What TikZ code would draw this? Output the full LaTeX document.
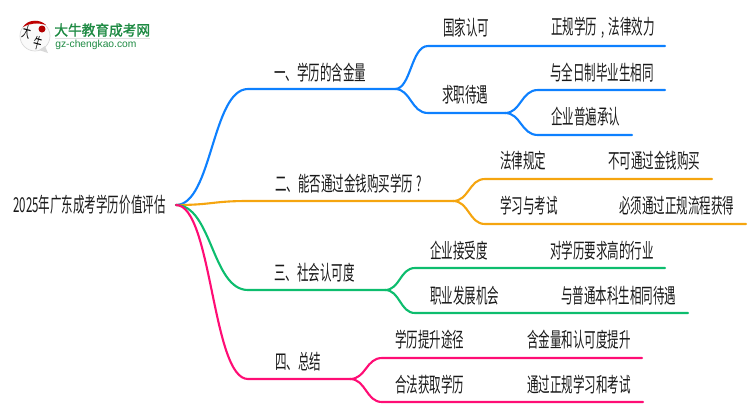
\documentclass[tikz,border=0pt]{standalone}
\usepackage{fontspec}
\setmainfont{Liberation Sans}
\newfontfamily\cjk[FakeStretch=0.56]{Noto Sans CJK SC}
\newfontfamily\cjklogo[FakeStretch=0.95,FakeBold=1.5]{Noto Sans CJK SC}
\usepackage{tikz}
\definecolor{bluebranch}{HTML}{0D80FF}
\definecolor{orangebranch}{HTML}{F5A50F}
\definecolor{greenbranch}{HTML}{0DBD6E}
\definecolor{pinkbranch}{HTML}{FF0D75}
\definecolor{logogreen}{HTML}{1E8A43}
\newcommand{\punct}[1]{\makebox[6.55pt]{#1}}
\tikzset{
  label/.style={anchor=west, inner sep=0pt, font=\cjk\fontsize{11.7}{13}\selectfont, text=black!90},
  logomark/.style={inner sep=0pt, rotate=-15, font=\cjk\fontsize{8.5}{9}\selectfont},
  branch/.style={line width=1.2pt, line cap=round},
}

\begin{document}
\begin{tikzpicture}[x=0.02cm, y=-0.02cm]
      \useasboundingbox (0,0) rectangle (750,410);

      % Logo
      \draw[black!15, fill=black!2, line width=0.4pt] (35,36) circle (15);
      \fill[black!15] (39,50) -- (48,53) -- (45,46) -- cycle;
      \fill[red!75!black] (23,27) .. controls (28,19) and (40,19) .. (46,25) .. controls (38,22.5) and (30,23) .. (23,27) -- cycle;
      \fill[red!70!black] (42,29) circle (3.5);
      \node[logomark] (logomarka) at (27,32) {大};
      \node[logomark] (logomarkb) at (38,43) {牛};
      \node[anchor=west, inner sep=0pt, font=\cjklogo\fontsize{8.2}{9}\selectfont, text=logogreen] (logoname) at (54,30) {大牛教育成考网};
      \node[anchor=west, inner sep=0pt, font=\fontsize{5.85}{6}\selectfont, text=logogreen] (logourl) at (55,44.5) {gz-chengkao.com};
      \draw[black!12, line width=0.4pt] (55,38.5) -- (150,38.5);

      % Root
      \node[label] (root) at (13,205) {2025年广东成考学历价值评估};
      \coordinate (start) at (176,205);

      % Branch for 一
      \node[label] (one) at (274,73) {一、学历的含金量};
      \node[label] (onea) at (443,28) {国家认可};
      \node[label] (oneaa) at (551,28) {正规学历\punct{,}法律效力};
      \node[label] (oneb) at (442,95) {求职待遇};
      \node[label] (oneba) at (550,73) {与全日制毕业生相同};
      \node[label] (onebb) at (551,117) {企业普遍承认};
      \coordinate (onel) at (248,89);
      \coordinate (oner) at (395,89);
      \coordinate (oneal) at (428,46);
      \coordinate (onear) at (665,46);
      \coordinate (onebl) at (428,113);
      \coordinate (onebr) at (505,113);
      \coordinate (onebal) at (538,90);
      \coordinate (onebar) at (665,90);
      \coordinate (onebbl) at (538,135);
      \coordinate (onebbr) at (632,135);
      \draw[branch, bluebranch] (start) .. controls (212,205) and (212,89) .. (onel) -- (oner);
      \draw[branch, bluebranch] (oner) .. controls (411,89) and (411,46) .. (oneal) -- (onear);
      \draw[branch, bluebranch] (oner) .. controls (411,89) and (411,113) .. (onebl) -- (onebr);
      \draw[branch, bluebranch] (onebr) .. controls (521,113) and (521,90) .. (onebal) -- (onebar);
      \draw[branch, bluebranch] (onebr) .. controls (521,113) and (521,135) .. (onebbl) -- (onebbr);

      % Branch for 二
      \node[label] (two) at (275,184) {二、能否通过金钱购买学历\punct{?}};
      \node[label] (twoa) at (500,161) {法律规定};
      \node[label] (twoaa) at (608,161) {不可通过金钱购买};
      \node[label] (twob) at (500,206) {学习与考试};
      \node[label] (twoba) at (619,206) {必须通过正规流程获得};
      \coordinate (twol) at (248,201);
      \coordinate (twor) at (453,201);
      \coordinate (twoal) at (485,179);
      \coordinate (twoar) at (712,179);
      \coordinate (twobl) at (485,224);
      \coordinate (twobr) at (746,224);
      \draw[branch, orangebranch] (start) .. controls (212,205) and (212,201) .. (twol) -- (twor);
      \draw[branch, orangebranch] (twor) .. controls (469,201) and (469,179) .. (twoal) -- (twoar);
      \draw[branch, orangebranch] (twor) .. controls (469,201) and (469,224) .. (twobl) -- (twobr);

      % Branch for 三
      \node[label] (three) at (274,273) {三、社会认可度};
      \node[label] (threea) at (430,251) {企业接受度};
      \node[label] (threeaa) at (550,251) {对学历要求高的行业};
      \node[label] (threeb) at (430,296) {职业发展机会};
      \node[label] (threeba) at (561,296) {与普通本科生相同待遇};
      \coordinate (threel) at (248,290);
      \coordinate (threer) at (385,290);
      \coordinate (threeal) at (415,268);
      \coordinate (threear) at (665,268);
      \coordinate (threebl) at (415,313);
      \coordinate (threebr) at (688,313);
      \draw[branch, greenbranch] (start) .. controls (212,205) and (212,290) .. (threel) -- (threer);
      \draw[branch, greenbranch] (threer) .. controls (400,290) and (400,268) .. (threeal) -- (threear);
      \draw[branch, greenbranch] (threer) .. controls (400,290) and (400,313) .. (threebl) -- (threebr);

      % Branch for 四
      \node[label] (four) at (275,362) {四、总结};
      \node[label] (foura) at (395,340) {学历提升途径};
      \node[label] (fouraa) at (527,340) {含金量和认可度提升};
      \node[label] (fourb) at (395,385) {合法获取学历};
      \node[label] (fourba) at (527,385) {通过正规学习和考试};
      \coordinate (fourl) at (248,379);
      \coordinate (fourr) at (350,379);
      \coordinate (foural) at (382,358);
      \coordinate (fourar) at (642,358);
      \coordinate (fourbl) at (382,402);
      \coordinate (fourbr) at (643,402);
      \draw[branch, pinkbranch] (start) .. controls (212,205) and (212,379) .. (fourl) -- (fourr);
      \draw[branch, pinkbranch] (fourr) .. controls (366,379) and (366,358) .. (foural) -- (fourar);
      \draw[branch, pinkbranch] (fourr) .. controls (366,379) and (366,402) .. (fourbl) -- (fourbr);
\end{tikzpicture}
\end{document}
